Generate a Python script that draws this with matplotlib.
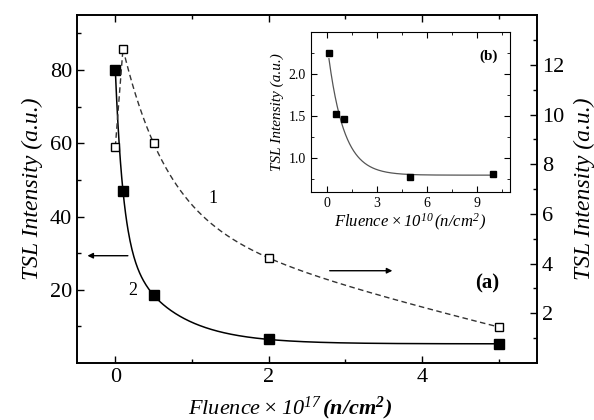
import numpy as np
import matplotlib
matplotlib.use("Agg")
import matplotlib.pyplot as plt

plt.rcParams['font.family'] = ['Liberation Serif', 'DejaVu Serif']
plt.rcParams['mathtext.fontset'] = 'custom'
plt.rcParams['mathtext.rm'] = 'Liberation Serif:italic'
plt.rcParams['mathtext.it'] = 'Liberation Serif:italic'
plt.rcParams['mathtext.bf'] = 'Liberation Serif:bold:italic'

# ---- data ----
fluence_main = [0.0, 0.1, 0.5, 2.0, 5.0]
tsl_curve2 = [80.0, 47.0, 18.5, 6.5, 5.2]        # left axis, filled squares
tsl_curve1 = [8.7, 12.65, 8.84, 4.23, 1.45]      # right axis, open squares
fluence_inset = [0.1, 0.5, 1.0, 5.0, 10.0]
tsl_inset = [2.25, 1.53, 1.47, 0.77, 0.81]

x_ticks_main = [0, 2, 4]
left_ticks = [20, 40, 60, 80]
right_ticks = [2, 4, 6, 8, 10, 12]
inset_xticks = [0, 3, 6, 9]
inset_yticks = [1.0, 1.5, 2.0]


def fit_dexp(x, y):
    x = np.asarray(x, float); y = np.asarray(y, float)
    best = None
    for t1 in np.geomspace(0.01, 1.5, 70):
        for t2 in np.geomspace(0.1, 20, 70):
            if t2 <= t1 * 1.2:
                continue
            M = np.column_stack([np.ones_like(x), np.exp(-x / t1), np.exp(-x / t2)])
            c, *_ = np.linalg.lstsq(M, y, rcond=None)
            if np.any(c[1:] < 0):
                continue
            r = np.sum((M @ c - y) ** 2)
            if best is None or r < best[0]:
                best = (r, t1, t2, c)
    _, t1, t2, c = best
    return lambda xs: c[0] + c[1] * np.exp(-xs / t1) + c[2] * np.exp(-xs / t2)


def fit_exp(x, y):
    x = np.asarray(x, float); y = np.asarray(y, float)
    best = None
    for t in np.geomspace(0.05, 10, 300):
        M = np.column_stack([np.ones_like(x), np.exp(-x / t)])
        c, *_ = np.linalg.lstsq(M, y, rcond=None)
        r = np.sum((M @ c - y) ** 2)
        if best is None or r < best[0]:
            best = (r, t, c)
    _, t, c = best
    return lambda xs: c[0] + c[1] * np.exp(-xs / t)


fig = plt.figure(figsize=(5.94, 4.2), dpi=100)
ax = fig.add_axes([0.1296, 0.1357, 0.7744, 0.8283])
ax2 = ax.twinx()

# curve 2 (solid, left axis)
f2 = fit_dexp(fluence_main, tsl_curve2)
xs = np.linspace(fluence_main[0], fluence_main[-1], 600)
ax.plot(xs, f2(xs), color='black', lw=1.1)
ax.plot(fluence_main, tsl_curve2, 's', color='black', ms=7.5, mec='black')

# curve 1 (dashed, right axis)
f1 = fit_dexp(fluence_main[1:], tsl_curve1[1:])
xs1 = np.linspace(fluence_main[1], fluence_main[-1], 600)
ax2.plot(fluence_main[:2], tsl_curve1[:2], color='#333333', lw=1.0, dashes=(4, 2.5))
ax2.plot(xs1, f1(xs1), color='#333333', lw=1.0, dashes=(4, 2.5))
ax2.plot(fluence_main, tsl_curve1, 's', mfc='white', mec='black', ms=6, mew=1.0)

ax.set_xlim(-0.5, 5.5)
ax.set_ylim(0, 95)
ax2.set_ylim(0, 14)
ax.set_xticks(x_ticks_main)
ax.set_xticks([1, 3, 5], minor=True)
ax.set_yticks(left_ticks)
ax.set_yticks([10, 30, 50, 70, 90], minor=True)
ax2.set_yticks(right_ticks)
ax2.set_yticks([1, 3, 5, 7, 9, 11, 13], minor=True)

ax.tick_params(axis='both', which='both', direction='in', labelsize=16)
ax.tick_params(axis='x', which='both', top=True)
ax.tick_params(axis='y', which='both', right=False)
ax.tick_params(which='major', length=5, width=1)
ax.tick_params(which='minor', length=3, width=1)
ax2.tick_params(axis='y', which='both', direction='in', labelsize=16)
ax2.tick_params(which='major', length=5, width=1)
ax2.tick_params(which='minor', length=3, width=1)
for a in (ax, ax2):
    for s in a.spines.values():
        s.set_linewidth(1.2)

ax.set_xlabel(r"$Fluence \times 10^{17}\,\mathbf{(n/cm^{2})}$", fontsize=16)
ax.xaxis.set_label_coords(0.463, -0.09)
ax.set_ylabel("TSL Intensity (a.u.)", fontsize=17, style='italic', labelpad=5)
ax2.set_ylabel("TSL Intensity (a.u.)", fontsize=17, style='italic', labelpad=7)

ax.text(1.27, 45, "1", fontsize=13, ha='center', va='center')
ax.text(0.23, 19.7, "2", fontsize=13, ha='center', va='center')
ax.text(4.85, 21.6, "(a)", fontsize=15, fontweight='bold', ha='center', va='center')
ax.annotate("", xy=(-0.4, 29.3), xytext=(0.2, 29.3),
            arrowprops=dict(arrowstyle='-|>', color='black', lw=1, mutation_scale=8))
ax.annotate("", xy=(3.65, 25.2), xytext=(2.76, 25.2),
            arrowprops=dict(arrowstyle='-|>', color='black', lw=1, mutation_scale=8))

# inset
axi = fig.add_axes([0.523, 0.5436, 0.3356, 0.3794])
fi = fit_exp(fluence_inset, tsl_inset)
xsi = np.linspace(fluence_inset[0], fluence_inset[-1], 400)
axi.plot(xsi, fi(xsi), color='#555555', lw=0.9)
axi.plot(fluence_inset, tsl_inset, 's', color='black', ms=4)
axi.set_xlim(-1, 11)
axi.set_ylim(0.6, 2.5)
axi.set_xticks(inset_xticks)
axi.set_xticks([1.5, 4.5, 7.5, 10.5], minor=True)
axi.set_yticks(inset_yticks)
axi.set_yticks([0.75, 1.25, 1.75, 2.25], minor=True)
axi.tick_params(which='both', direction='in', top=True, right=True, labelsize=10)
axi.tick_params(which='major', length=4)
axi.tick_params(which='minor', length=2)
axi.set_yticklabels(["1.0", "1.5", "2.0"])
axi.set_xlabel(r"$Fluence \times 10^{10}\,(n/cm^{2})$", fontsize=12, labelpad=2)
axi.set_ylabel("TSL Intensity (a.u.)", fontsize=11, style='italic', labelpad=3)
axi.text(9.7, 2.21, "(b)", fontsize=11, fontweight='bold', ha='center', va='center')

fig.savefig("out.png", dpi=100)
